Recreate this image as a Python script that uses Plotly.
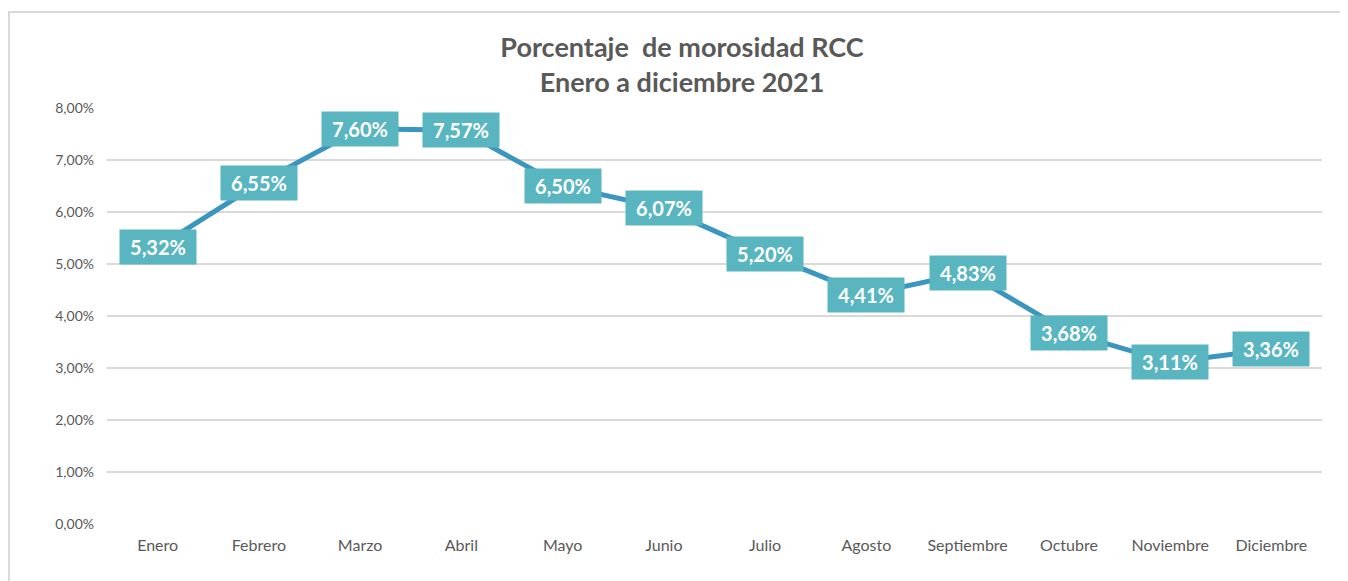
import plotly.graph_objects as go

months = ["Enero", "Febrero", "Marzo", "Abril", "Mayo", "Junio", "Julio",
          "Agosto", "Septiembre", "Octubre", "Noviembre", "Diciembre"]
morosidad = [5.32, 6.55, 7.60, 7.57, 6.50, 6.07, 5.20, 4.41, 4.83, 3.68, 3.11, 3.36]
y_ticks = [0, 1, 2, 3, 4, 5, 6, 7, 8]
y_tick_text = [f"{t:.2f}%".replace(".", ",") for t in y_ticks]

LINE = "#3A96BE"
BOX = "#59B6C0"
GRAY = "#595959"
FONT = "Lato"

fig = go.Figure()
fig.add_trace(go.Scatter(x=months, y=morosidad, mode="lines",
                         line=dict(color=LINE, width=5), hoverinfo="skip",
                         showlegend=False))

for m, v in zip(months, morosidad):
    fig.add_annotation(x=m, y=v, xref="x", yref="y", showarrow=False,
                       text=f"<b>{v:.2f}%</b>".replace(".", ","),
                       font=dict(family=FONT, size=20, color="white"),
                       bgcolor=BOX, borderpad=5, width=66, height=24)

fig.add_shape(type="rect", xref="paper", yref="paper",
              x0=-0.0807, x1=1.05, y0=-0.2, y1=1.2308,
              line=dict(color="#D9D9D9", width=2), fillcolor="rgba(0,0,0,0)",
              layer="below")

fig.update_layout(
    width=1348, height=581,
    margin=dict(l=99, r=34, t=100, b=65),
    paper_bgcolor="white", plot_bgcolor="white",
    title=dict(text="<b>Porcentaje  de morosidad RCC<br>Enero a diciembre 2021</b>",
               x=0.5, xanchor="center", y=0.915, yanchor="middle",
               font=dict(family=FONT, size=27, color=GRAY)),
    font=dict(family=FONT, color=GRAY),
    xaxis=dict(range=[-0.5, 11.5], showgrid=False, showline=False, zeroline=False,
               tickfont=dict(size=16, color=GRAY), ticks="",
               ticklabelstandoff=10),
    yaxis=dict(range=[0, 8], tickvals=y_ticks, ticktext=y_tick_text,
               showgrid=True, gridcolor="#D9D9D9", gridwidth=2, zeroline=False,
               showline=False, tickfont=dict(size=14, color=GRAY), ticks="",
               ticklabelstandoff=12),
)

fig.write_html("out.html")
